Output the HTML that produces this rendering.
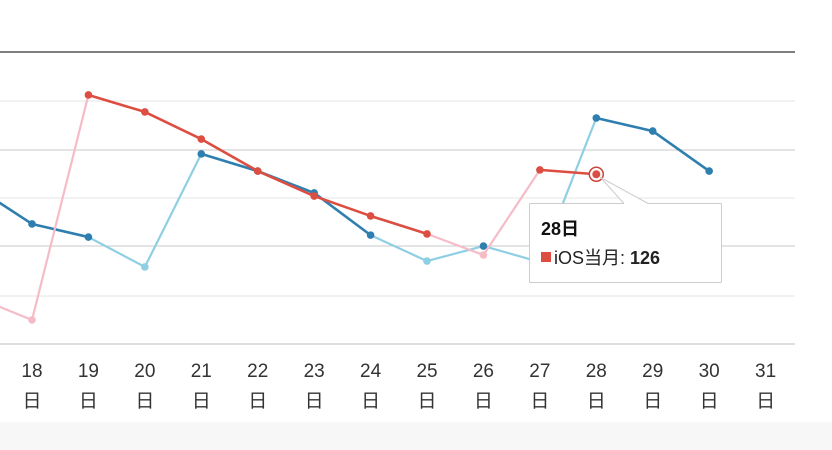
<!DOCTYPE html>
<html><head><meta charset="utf-8">
<style>
html,body{margin:0;padding:0;background:#fff;}
body{width:832px;height:450px;overflow:hidden;position:relative;font-family:"Liberation Sans","Noto Sans CJK SC",sans-serif;}
#band{position:absolute;left:0;top:422px;width:832px;height:28px;background:#f7f7f7;}
</style></head><body>
<svg id="chart" width="832" height="422" style="position:absolute;left:0;top:0">
</svg>
<div id="band"></div>
<script>
const days = [17,18,19,20,21,22,23,24,25,26,27,28,29,30,31];
const blueValues = [120.7,105.5,100.1,87.8,134.4,127.3,118.3,100.9,90.2,96.4,89.8,149.2,143.8,127.3,null];
const blueDark = [true,true,true,false,true,true,true,true,false,true,false,true,true,true,false];
const redValues = [75.4,65.9,158.7,151.7,140.5,127.3,117,108.8,101.4,92.7,127.8,126,null,null,null];
const redDark = [false,false,true,true,true,true,true,true,true,false,true,true,true,true,true];
const yMin = 56, yMax = 196;
const tipDayIndex = 11;
const tipSeriesName = "iOS当月";

const NS = "http://www.w3.org/2000/svg";
const svg = document.getElementById('chart');
const xPos = i => 32 + (i - 1) * 56.43;
const yPos = v => 344 - (v - yMin) / (yMax - yMin) * (344 - 4.5);
function mk(tag, attrs, parent){const e=document.createElementNS(NS,tag);for(const k in attrs)e.setAttribute(k,attrs[k]);(parent||svg).appendChild(e);return e;}

const grids = [[101,'#e6e6e6'],[150,'#c8c8c8'],[198,'#e6e6e6'],[246,'#c8c8c8'],[296,'#e6e6e6']];
grids.forEach(g=>{
  const l = mk('line',{x1:0,x2:795,y1:g[0],y2:g[0],stroke:g[1],'stroke-width':1});
  
  
});
const topLine = mk('line',{x1:0,x2:795,y1:52,y2:52,stroke:'#333','stroke-width':1.3});


const axisLine = mk('line',{x1:0,x2:795,y1:344,y2:344,stroke:'#ccc','stroke-width':1.3});



days.forEach((d,i)=>{
  if(i===0) return;
  const t = mk('text',{x:xPos(i),y:377,'text-anchor':'middle','font-size':19,fill:'#333'});
  t.textContent = d;
  
  
  const t2 = mk('text',{x:xPos(i),y:407,'text-anchor':'middle','font-size':19,fill:'#333'});
  t2.textContent = '日';
  
  
});

function drawSeries(vals, dark, cDark, cLight, name){
  const g = mk('g',{});
  
  
  for(let i=0;i<vals.length-1;i++){
    if(vals[i]==null||vals[i+1]==null) continue;
    const c = (dark[i]&&dark[i+1]) ? cDark : cLight;
    const s = mk('line',{x1:xPos(i),y1:yPos(vals[i]),x2:xPos(i+1),y2:yPos(vals[i+1]),stroke:c,'stroke-width':c===cDark?2.6:2.2,'stroke-linecap':'round'},g);
    
    
  }
  vals.forEach((v,i)=>{
    if(v==null||i===0) return;
    const p = mk('circle',{cx:xPos(i),cy:yPos(v),r:3.8,fill:dark[i]?cDark:cLight},g);
    
    
  });
}
drawSeries(blueValues, blueDark, '#2e7fb0', '#8fcfe3', 'android-series');
drawSeries(redValues, redDark, '#dc4e41', '#f5bcc8', 'ios-series');

const px = xPos(tipDayIndex), py = yPos(redValues[tipDayIndex]);
const hl = mk('circle',{cx:px,cy:py,r:7,fill:'#fff',stroke:'#c9463b','stroke-width':1.5});


const hd = mk('circle',{cx:px,cy:py,r:4,fill:'#dc4e41'});


const tg = mk('g',{});


mk('rect',{x:529.5,y:203.5,width:192,height:79,fill:'#fff',stroke:'#ccc','stroke-width':1,rx:1},tg);
mk('polygon',{points:`${px+4},${py+3} 624,204 648,204`,fill:'#fff',stroke:'none'},tg);
mk('polyline',{points:`624,203.5 ${px+4},${py+3} 648,203.5`,fill:'none',stroke:'#ccc','stroke-width':1},tg);
const tt = mk('text',{x:541,y:235,'font-size':18,'font-weight':'bold',fill:'#111'},tg);
tt.textContent = days[tipDayIndex] + '日';


mk('rect',{x:541,y:252,width:10,height:10,fill:'#dc4e41'},tg);
const tv = mk('text',{x:554,y:264,'font-size':18,fill:'#222'},tg);


const n1 = document.createElementNS(NS,'tspan'); n1.textContent = tipSeriesName + ': '; tv.appendChild(n1);
const n2 = document.createElementNS(NS,'tspan'); n2.setAttribute('font-weight','bold'); n2.textContent = redValues[tipDayIndex]; tv.appendChild(n2);
</script>
</body></html>
